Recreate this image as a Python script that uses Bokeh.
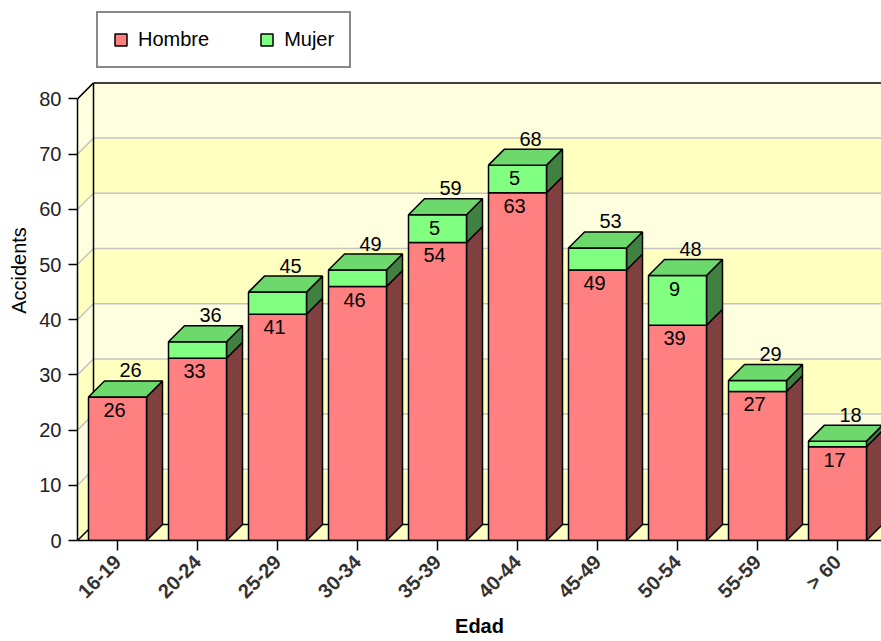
import math
import numpy as np
from bokeh.plotting import figure
from bokeh.models import Range1d, FixedTicker, Legend, LegendItem
from bokeh.embed import file_html
from bokeh.resources import INLINE
from bokeh.core.properties import value

# ---------------- data ----------------
categories = ["16-19", "20-24", "25-29", "30-34", "35-39",
              "40-44", "45-49", "50-54", "55-59", "> 60"]
hombre = [26, 33, 41, 46, 54, 63, 49, 39, 27, 17]
mujer = [0, 3, 4, 3, 5, 5, 4, 9, 2, 1]
series_names = ["Hombre", "Mujer"]
y_ticks = [0, 10, 20, 30, 40, 50, 60, 70, 80]
x_title = "Edad"
y_title = "Accidents"

# ---------------- styling / geometry ----------------
FONT = "Liberation Sans"
RED_FRONT, RED_SIDE = "#FF8080", "#804040"
GRN_FRONT, GRN_SIDE, GRN_TOP = "#80FF80", "#408040", "#6DD96D"
BAND_DARK, BAND_LIGHT = "#FFFFC0", "#FFFFE0"
GRID_COLOR = "#C4C4C4"

PX_X = 80.0      # pixels per category
PX_Y = 5.52      # pixels per unit
DEPTH = 16.0     # 3D depth in pixels
W, H = 881, 641
BL, BB = 77, 101
frame_w, frame_h = W - BL, H - BB

dx = DEPTH / PX_X
dy = DEPTH / PX_Y
half_w = 29.0 / PX_X
ox = 3.0 / PX_X          # label horizontal nudge (3px)
in_gap = 13.0 / PX_Y     # inside labels: centre 13px below segment top
out_gap = 10.5 / PX_Y    # total labels: centre 10.5px above top face

p = figure(width=W, height=H,
           x_range=Range1d(-0.5, -0.5 + frame_w / PX_X),
           y_range=Range1d(0, frame_h / PX_Y),
           output_backend="svg", toolbar_location=None,
           min_border_left=BL, min_border_right=0,
           min_border_top=0, min_border_bottom=BB)
p.outline_line_color = None
p.grid.visible = False
p.background_fill_color = "white"
p.border_fill_color = "white"

x_left = -0.5
x_right = x_left + 12
ymax = y_ticks[-1]

# back wall and left wall bands
for k in range(len(y_ticks) - 1):
    v0, v1 = y_ticks[k], y_ticks[k + 1]
    col = BAND_DARK if k % 2 == 0 else BAND_LIGHT
    p.quad(left=x_left + dx, right=x_right, bottom=v0 + dy, top=v1 + dy,
           fill_color=col, line_color=None)
    p.patch(x=[x_left, x_left + dx, x_left + dx, x_left],
            y=[v0, v0 + dy, v1 + dy, v1], fill_color=col, line_color=None)

# floor
p.patch(x=[x_left, x_left + dx, x_right, x_right], y=[0, dy, dy, 0],
        fill_color=BAND_DARK, line_color=None)

# grid lines on walls
for v in y_ticks[1:-1]:
    p.segment(x0=[x_left + dx], y0=[v + dy], x1=[x_right], y1=[v + dy],
              line_color=GRID_COLOR, line_width=1.5)
    p.segment(x0=[x_left], y0=[v], x1=[x_left + dx], y1=[v + dy],
              line_color=GRID_COLOR, line_width=1.5)

# wall edges
edge_x0 = [x_left + dx, x_left + dx, x_left, x_left + dx, x_left]
edge_y0 = [ymax + dy, dy, ymax, dy, 0]
edge_x1 = [x_right, x_left + dx, x_left + dx, x_right, x_left + dx]
edge_y1 = [ymax + dy, ymax + dy, ymax + dy, dy, dy]
p.segment(x0=edge_x0, y0=edge_y0, x1=edge_x1, y1=edge_y1,
          line_color="black", line_width=1.5)

# ---------------- bars ----------------
n = len(categories)
xs = np.arange(n, dtype=float)
h = np.array(hombre, dtype=float)
m = np.array(mujer, dtype=float)
tot = h + m

def side_polys(bottom, top):
    px, py = [], []
    for i in range(n):
        xr = xs[i] + half_w
        px.append([xr, xr + dx, xr + dx, xr])
        py.append([bottom[i], bottom[i] + dy, top[i] + dy, top[i]])
    return px, py

sx, sy = side_polys(np.zeros(n), h)
p.patches(xs=sx, ys=sy, fill_color=RED_SIDE, line_color="black", line_width=1.5)
sx, sy = side_polys(h, tot)
p.patches(xs=sx, ys=sy, fill_color=GRN_SIDE, line_color="black", line_width=1.5)

r_h = p.quad(left=xs - half_w, right=xs + half_w, bottom=0, top=h,
             fill_color=RED_FRONT, line_color="black", line_width=1.5)
r_m = p.quad(left=xs - half_w, right=xs + half_w, bottom=h, top=tot,
             fill_color=GRN_FRONT, line_color="black", line_width=1.5)

tx, ty = [], []
for i in range(n):
    xl, xr = xs[i] - half_w, xs[i] + half_w
    tx.append([xl, xl + dx, xr + dx, xr])
    ty.append([tot[i], tot[i] + dy, tot[i] + dy, tot[i]])
p.patches(xs=tx, ys=ty, fill_color=GRN_TOP, line_color="black", line_width=1.5)

# ---------------- labels ----------------
lbl = dict(text_font=value(FONT), text_font_size="20px", text_color="black",
           text_align="center", text_baseline="middle")
p.text(x=xs - ox, y=h - in_gap, text=[str(int(v)) for v in h], **lbl)
m_text = [str(int(v)) if v * PX_Y >= 25 else "" for v in m]
p.text(x=xs - ox, y=tot - in_gap, text=m_text, **lbl)
p.text(x=xs + dx - ox, y=tot + dy + out_gap, text=[str(int(v)) for v in tot],
       **lbl)

# ---------------- axes ----------------
xa = p.xaxis[0]
xa.ticker = FixedTicker(ticks=list(range(n)))
xa.major_label_overrides = {i: c for i, c in enumerate(categories)}
xa.major_label_orientation = math.pi / 4
xa.major_label_text_font = FONT
xa.major_label_text_font_size = "20px"
xa.major_label_text_font_style = "bold"
xa.major_label_text_color = "#333333"
xa.major_label_standoff = 8
xa.major_tick_out = 10
xa.major_tick_in = 0
xa.minor_tick_line_color = None
xa.axis_line_width = 1.5
xa.major_tick_line_width = 1.5
xa.axis_label = x_title
xa.axis_label_text_font = FONT
xa.axis_label_text_font_size = "20px"
xa.axis_label_text_font_style = "bold"
xa.axis_label_text_color = "black"
xa.axis_label_standoff = 2

ya = p.yaxis[0]
ya.ticker = FixedTicker(ticks=y_ticks)
ya.bounds = (y_ticks[0], y_ticks[-1])
ya.major_label_text_font = FONT
ya.major_label_text_font_size = "20px"
ya.major_label_text_color = "#222222"
ya.major_label_standoff = 7
ya.major_tick_out = 9
ya.major_tick_in = 0
ya.minor_tick_line_color = None
ya.axis_line_width = 1.5
ya.major_tick_line_width = 1.5
ya.axis_label = y_title
ya.axis_label_text_font = FONT
ya.axis_label_text_font_size = "20px"
ya.axis_label_text_font_style = "normal"
ya.axis_label_text_color = "black"
ya.axis_label_standoff = 6

# ---------------- legend ----------------
legend = Legend(items=[LegendItem(label=series_names[0], renderers=[r_h]),
                       LegendItem(label=series_names[1], renderers=[r_m])],
                location=(19, 472), orientation="horizontal",
                label_text_font=FONT, label_text_font_size="20px",
                label_text_color="black",
                glyph_width=15, glyph_height=15, label_standoff=10,
                spacing=50, padding=15, margin=0,
                border_line_color="#111111", border_line_width=2,
                background_fill_color="white", background_fill_alpha=1.0)
p.add_layout(legend)

open("out.html", "w").write(file_html(p, INLINE))
